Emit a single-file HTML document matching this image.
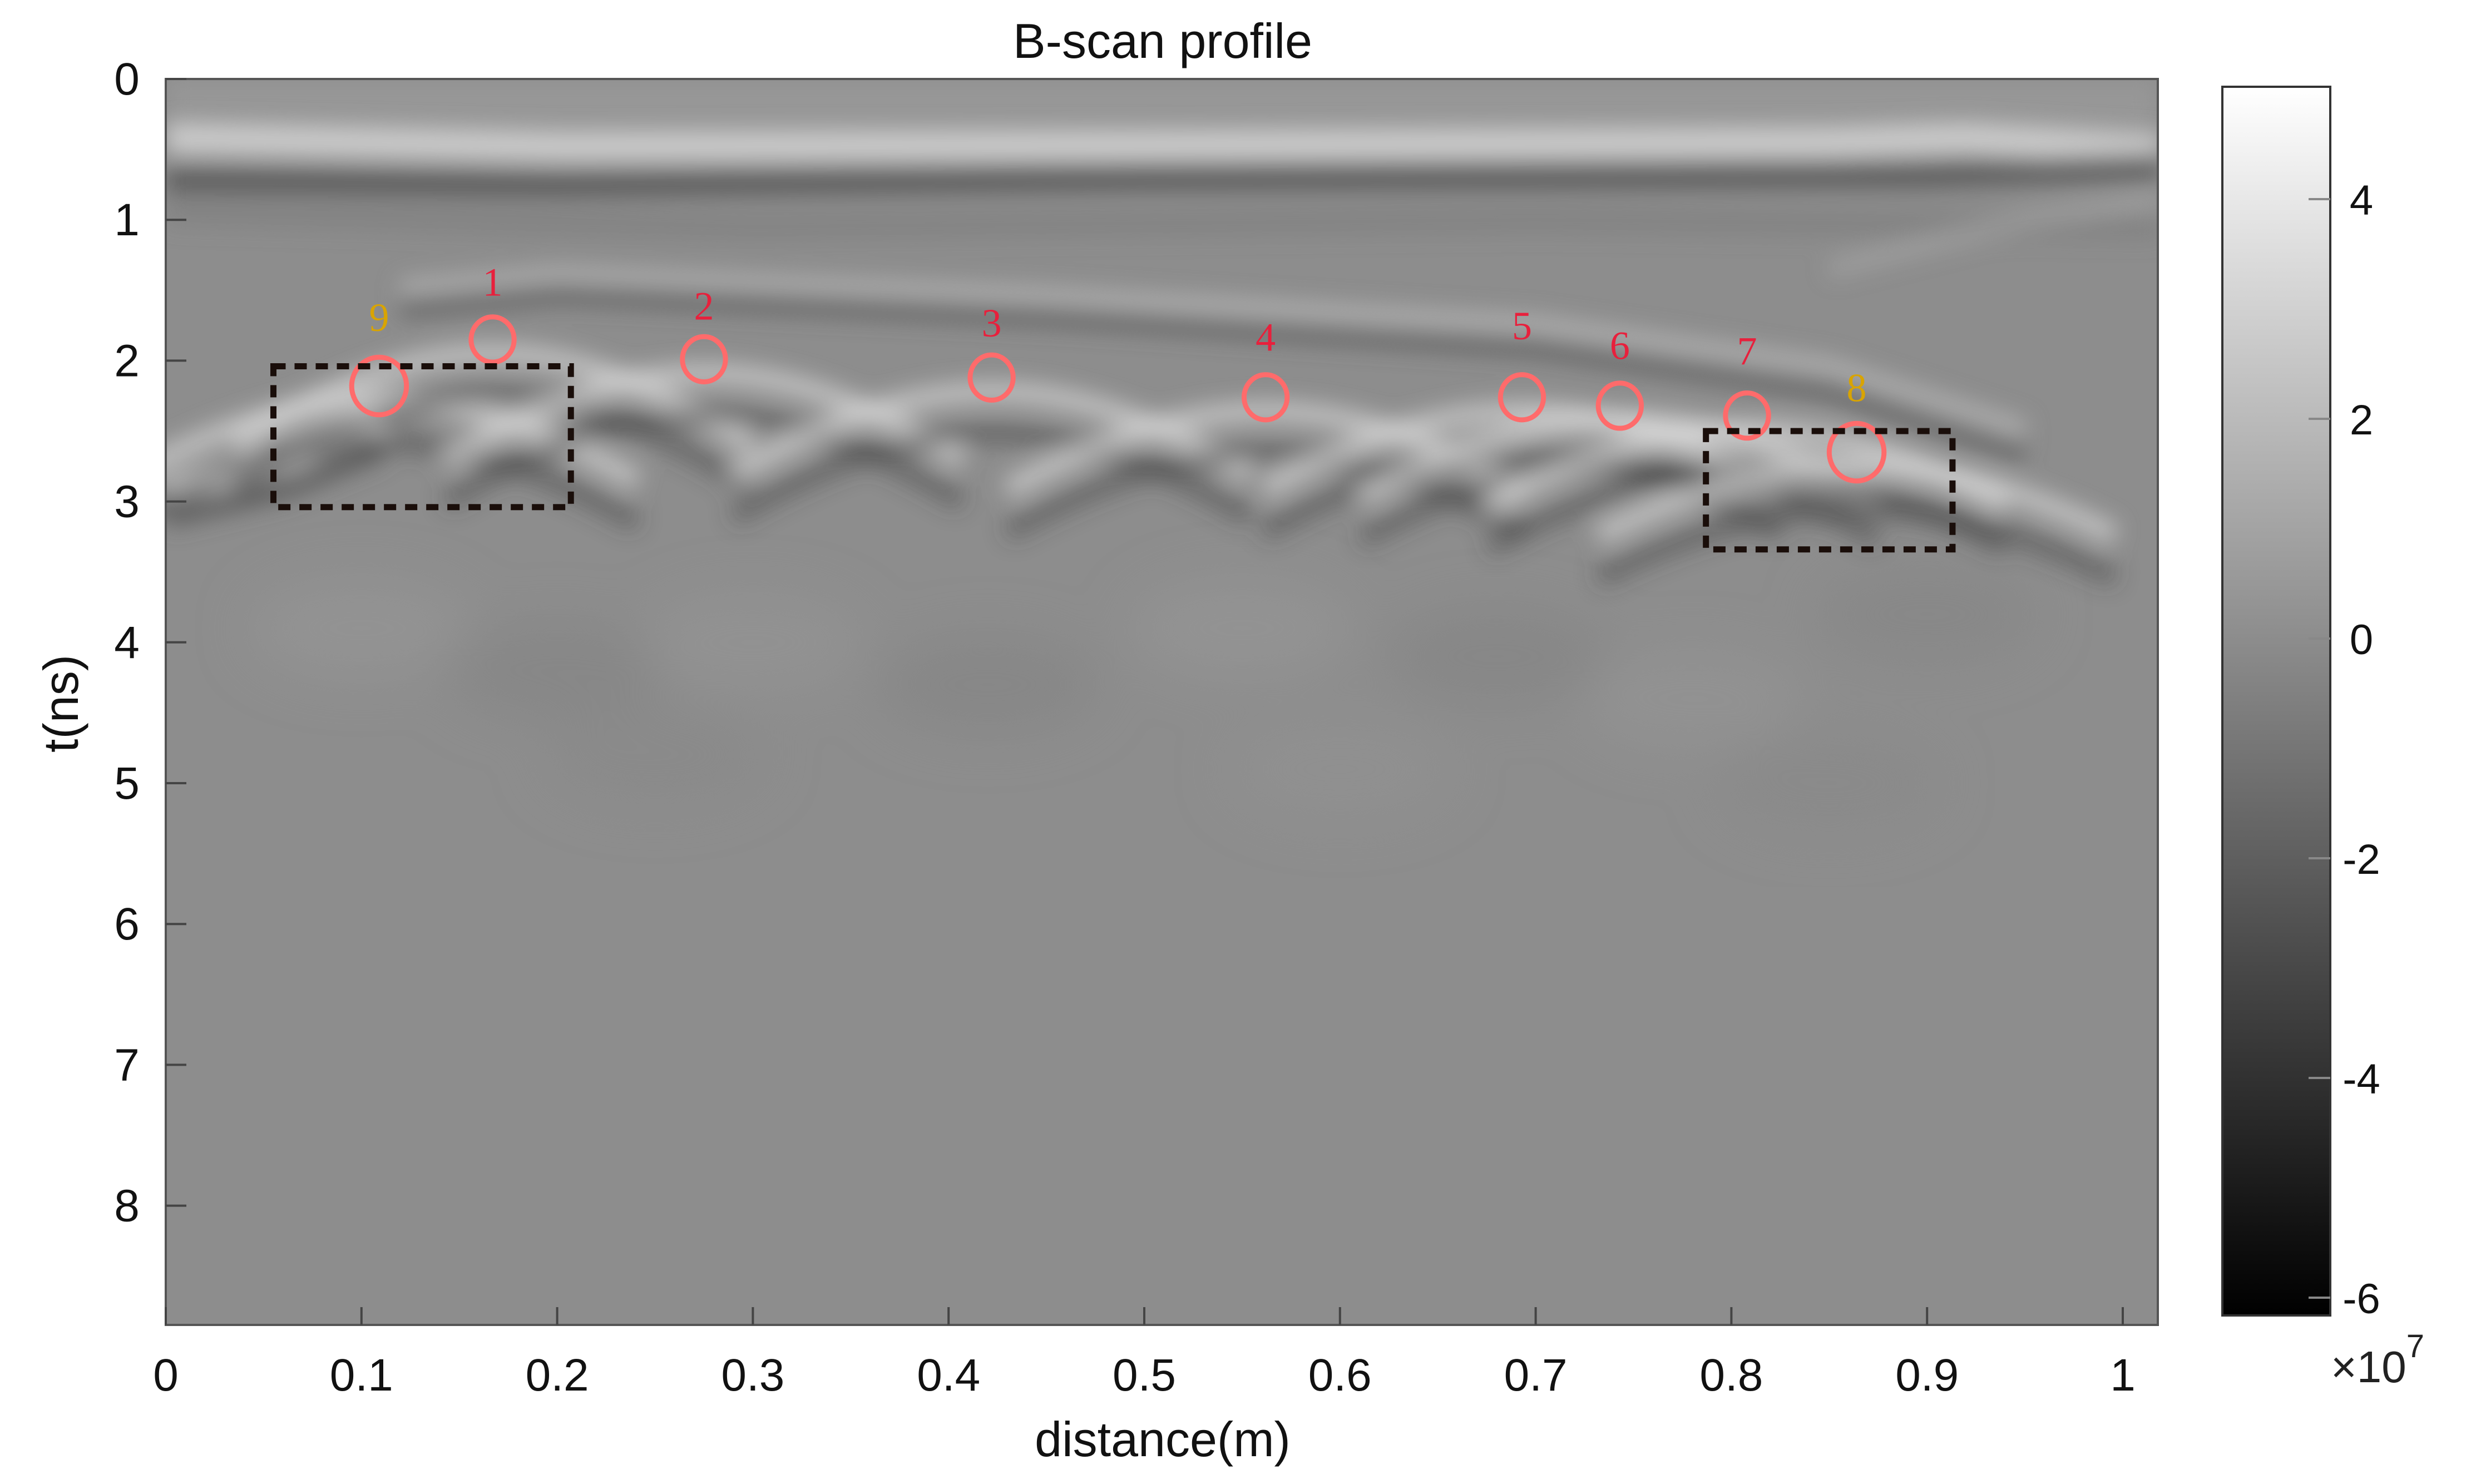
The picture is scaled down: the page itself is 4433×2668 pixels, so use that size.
<!DOCTYPE html>
<html><head><meta charset="utf-8"><style>
html,body{margin:0;padding:0;background:#fff;}
svg{display:block;font-family:"Liberation Sans",sans-serif;}
</style></head><body>
<svg id="chart" width="4433" height="2668" viewBox="0 0 4433 2668">
<defs>
<filter id="blur" x="-20%" y="-20%" width="140%" height="140%"><feGaussianBlur stdDeviation="20"/></filter>
<filter id="blur3" x="-20%" y="-20%" width="140%" height="140%"><feGaussianBlur stdDeviation="45"/></filter>
<linearGradient id="cbar" x1="0" y1="1" x2="0" y2="0">
<stop offset="0" stop-color="#000"/><stop offset="1" stop-color="#fff"/>
</linearGradient>
<clipPath id="plotclip"><rect x="298" y="142" width="3581" height="2240"/></clipPath>
</defs>
<text x="2090" y="104" font-size="88" text-anchor="middle" fill="#111">B-scan profile</text>
<g clip-path="url(#plotclip)">
<rect x="298" y="142" width="3581" height="2240" fill="#8d8d8d"/>
<rect x="298" y="142" width="3581" height="110" fill="#979797" filter="url(#blur)"/>
<g id="blobs" filter="url(#blur3)"></g>
<g id="waves" filter="url(#blur)"></g>
</g>
<rect x="298" y="142" width="3581" height="2240" fill="none" stroke="#555" stroke-width="4"/>
<g id="axes"></g>
<g id="marks"></g>
<rect x="3995" y="156" width="194" height="2209" fill="url(#cbar)" stroke="#333" stroke-width="4"/>
<g id="cbticks"></g>
<text x="4190" y="2485" font-size="80" fill="#222">×10<tspan dy="-45" font-size="58">7</tspan></text>
<text x="2090" y="2618" font-size="88" text-anchor="middle" fill="#111">distance(m)</text>
<text transform="translate(140,1265) rotate(-90)" font-size="88" text-anchor="middle" fill="#111">t(ns)</text>
</svg>
<script>
const xTicks=[0,0.1,0.2,0.3,0.4,0.5,0.6,0.7,0.8,0.9,1];
const yTicks=[0,1,2,3,4,5,6,7,8];
const cbTicks=[4,2,0,-2,-4,-6];
const targetLabels=["9","1","2","3","4","5","6","7","8"];
const targetDist=[0.109,0.167,0.275,0.422,0.562,0.693,0.743,0.808,0.864];
const targetTime=[2.18,1.85,1.99,2.12,2.26,2.26,2.32,2.39,2.65];
const targetLabelTime=[1.69,1.44,1.61,1.73,1.83,1.75,1.89,1.93,2.19];
const targetRadius=[0.014,0.011,0.011,0.011,0.011,0.011,0.011,0.011,0.014];
const targetColor=["#d9a400","#e8203c","#e8203c","#e8203c","#e8203c","#e8203c","#e8203c","#e8203c","#d9a400"];
const boxX0=[0.055,0.787];
const boxX1=[0.207,0.913];
const boxT0=[2.04,2.5];
const boxT1=[3.04,3.34];
const blobDist=[0.1,0.2,0.3,0.42,0.55,0.68,0.78,0.9,0.25,0.6,0.85];
const blobTime=[3.9,4.2,4.0,4.3,3.9,4.1,4.4,3.8,4.8,4.9,5.0];
const blobTone=["#939393","#878787","#929292","#878787","#939393","#878787","#929292","#888","#8a8a8a","#909090","#8a8a8a"];

const NS="http://www.w3.org/2000/svg";
const X=d=>298+d*3518;
const Y=t=>142+t*253.2;
const CB=v=>1148-v*197.5;
function mk(tag,attrs,parent,text){const e=document.createElementNS(NS,tag);for(const k in attrs)e.setAttribute(k,attrs[k]);if(text!==undefined)e.textContent=text;parent.appendChild(e);return e;}

const axes=document.getElementById('axes');
xTicks.forEach(v=>{
  const t=mk('text',{x:X(v),y:2500,'font-size':82,'text-anchor':'middle',fill:'#111'},axes,String(v));
  
  
  const l=mk('line',{x1:X(v),x2:X(v),y1:2382,y2:2350,stroke:'#444','stroke-width':4},axes);
  
  
});
yTicks.forEach(v=>{
  const t=mk('text',{x:228,y:Y(v)+28,'font-size':82,'text-anchor':'middle',fill:'#111'},axes,String(v));
  
  
  const l=mk('line',{x1:298,x2:335,y1:Y(v),y2:Y(v),stroke:'#444','stroke-width':4},axes);
  
  
});
const cbg=document.getElementById('cbticks');
cbTicks.forEach(v=>{
  const t=mk('text',{x:4245,y:CB(v)+28,'font-size':76,'text-anchor':'middle',fill:'#111'},cbg,String(v));
  
  
  const l=mk('line',{x1:4150,x2:4189,y1:CB(v),y2:CB(v),stroke:'#888','stroke-width':4},cbg);
  
  
});

const bg=document.getElementById('blobs');
blobDist.forEach((d,i)=>{
  const e=mk('ellipse',{cx:X(d),cy:Y(blobTime[i]),rx:200,ry:90,fill:blobTone[i]},bg);
  
  
});

const w=document.getElementById('waves');
function band(pts,color,width,op){
  const d='M'+pts.map(p=>X(p[0])+','+Y(p[1])).join(' L');
  const p=mk('path',{d:d,fill:'none',stroke:color,'stroke-width':width,opacity:op},w);
  
  
}
band([[0,0.42],[0.2,0.48],[0.5,0.47],[0.85,0.45],[0.92,0.42],[1.02,0.5]],'#cfcfcf',55,0.95);
band([[0,0.72],[0.2,0.75],[0.5,0.7],[0.9,0.68],[1.02,0.62]],'#555',45,0.85);
band([[0,0.95],[0.3,1.05],[0.7,1.0],[1.02,1.05]],'#777',40,0.5);
band([[0.12,1.5],[0.2,1.4],[0.45,1.55],[0.7,1.75],[0.85,2.05],[0.95,2.5]],'#b5b5b5',35,0.8);
band([[0.12,1.62],[0.2,1.52],[0.45,1.68],[0.7,1.9],[0.85,2.2],[0.95,2.65]],'#5a5a5a',35,0.75);
band([[0.85,1.35],[0.95,1.0],[1.02,0.85]],'#aaa',30,0.6);
band([[0,2.95],[0.06,2.7],[0.11,2.4]],'#dedede',50,0.9);
band([[0,3.1],[0.06,2.9],[0.11,2.62]],'#555',45,0.8);
targetDist.forEach((d,i)=>{
  const t0=targetTime[i]+0.1;
  const pts=[],pts2=[];
  for(let k=-11;k<=11;k++){const dx=k*0.012;const tt=Math.sqrt(t0*t0+Math.pow(dx*13,2));pts.push([d+dx,tt]);pts2.push([d+dx,tt+0.3]);}
  band(pts,'#e4e4e4',36,0.6);
  band(pts2,'#3f3f3f',34,0.5);
});
const mg=document.getElementById('marks');
targetDist.forEach((d,i)=>{
  const c=mk('ellipse',{cx:X(d),cy:Y(targetTime[i]),rx:targetRadius[i]*3518,ry:targetRadius[i]*3518*1.05,fill:'none',stroke:'#ff6b6b','stroke-width':9},mg);
  
  
  const t=mk('text',{x:X(d),y:Y(targetLabelTime[i])+25,'font-size':72,'text-anchor':'middle',fill:targetColor[i],'font-family':'Liberation Serif, serif'},mg,targetLabels[i]);
  
  
});
boxX0.forEach((x0,i)=>{
  const r=mk('rect',{x:X(x0),y:Y(boxT0[i]),width:X(boxX1[i])-X(x0),height:Y(boxT1[i])-Y(boxT0[i]),fill:'none',stroke:'#1a0e0a','stroke-width':11,'stroke-dasharray':'22,16'},mg);
  
  
});
</script>
</body></html>
